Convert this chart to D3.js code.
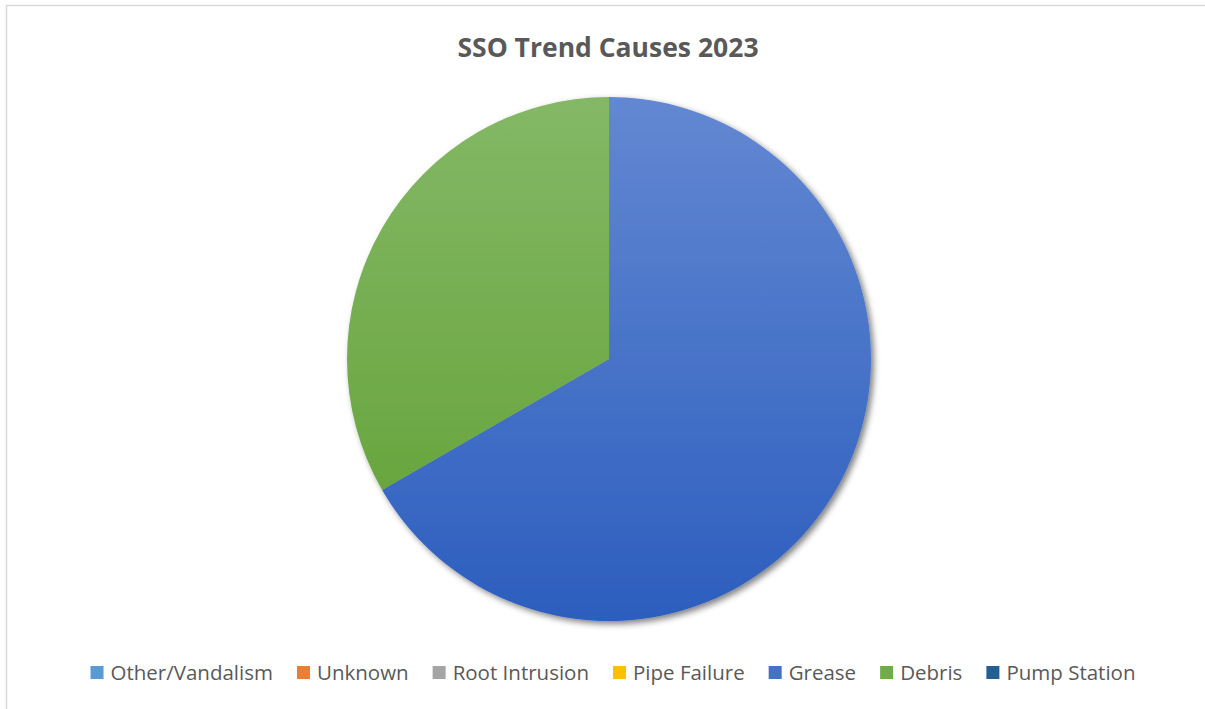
<!DOCTYPE html>
<html>
<head>
<meta charset="utf-8">
<script src="https://cdn.jsdelivr.net/npm/d3@7"></script>
<style>
  body { margin: 0; background: #fff; }
  svg { display: block; }
</style>
</head>
<body>
<svg></svg>
<script>
const width = 1205;
const height = 709;

// Data
const causes = ["Other/Vandalism", "Unknown", "Root Intrusion", "Pipe Failure", "Grease", "Debris", "Pump Station"];
const counts = [0, 0, 0, 0, 2, 1, 0];
const colors = ["#5B9BD5", "#ED7D31", "#A5A5A5", "#FFC000", "#4472C4", "#70AD47", "#255E91"];
const topColors = ["#6FA8DC", "#F28E4A", "#B5B5B5", "#FFCB33", "#6388D2", "#84B866", "#2F6CA3"];
const bottomColors = ["#4A8BC8", "#E06A1E", "#959595", "#EFB400", "#2C5EBE", "#60A032", "#1D5082"];

const svg = d3.select("svg")
  .attr("width", width)
  .attr("height", height);

const defs = svg.append("defs");

// chart border (only top/left visible in the crop)
svg.append("rect")
  .attr("x", 6.5).attr("y", 5.5)
  .attr("width", 1300).attr("height", 800)
  .attr("fill", "none")
  .attr("stroke", "#d9d9d9")
  .attr("stroke-width", 1.5);

// Title
svg.append("text")
  .attr("x", 608)
  .attr("y", 57)
  .attr("text-anchor", "middle")
  .style("font-family", "'Open Sans', sans-serif")
  .style("font-weight", "bold")
  .style("font-size", "26.5px")
  .style("fill", "#595959")
  .text("SSO Trend Causes 2023");

const cx = 609, cy = 359, r = 262;

// gradients per slice
causes.forEach((c, i) => {
  const g = defs.append("linearGradient")
    .attr("id", "grad" + i)
    .attr("gradientUnits", "userSpaceOnUse")
    .attr("x1", 0).attr("y1", -r)
    .attr("x2", 0).attr("y2", r);
  g.append("stop").attr("offset", "0%").attr("stop-color", topColors[i]);
  g.append("stop").attr("offset", "100%").attr("stop-color", bottomColors[i]);
});

// shadow
const filter = defs.append("filter")
  .attr("id", "shadow")
  .attr("x", "-20%").attr("y", "-20%")
  .attr("width", "140%").attr("height", "140%");
filter.append("feGaussianBlur").attr("in", "SourceAlpha").attr("stdDeviation", 3);
filter.append("feOffset").attr("dx", 3).attr("dy", 3).attr("result", "blur");
filter.append("feComponentTransfer").append("feFuncA").attr("type", "linear").attr("slope", 0.5);
const merge = filter.append("feMerge");
merge.append("feMergeNode");
merge.append("feMergeNode").attr("in", "SourceGraphic");

const pie = d3.pie().sort(null).value(d => d.value);
const arc = d3.arc().innerRadius(0).outerRadius(r);

const data = causes.map((c, i) => ({ name: c, value: counts[i], i: i }));

const chart = svg.append("g")
  .attr("transform", `translate(${cx},${cy})`);

chart.append("g")
  .attr("filter", "url(#shadow)")
  .selectAll("path")
  .data(pie(data).filter(d => d.data.value > 0))
  .enter()
  .append("path")
  .attr("d", arc)
  .attr("fill", d => `url(#grad${d.data.i})`);

// Legend
const legend = svg.append("g");
const items = legend.selectAll("g")
  .data(data)
  .enter()
  .append("g");

items.append("rect")
  .attr("width", 13).attr("height", 13)
  .attr("y", 666)
  .attr("fill", d => colors[d.i]);

items.append("text")
  .attr("x", 20)
  .attr("y", 680)
  .style("font-family", "'Open Sans', sans-serif")
  .style("font-size", "20.5px")
  .style("fill", "#595959")
  .text(d => d.name);

const gap = 24;
let widths = [];
items.each(function() {
  widths.push(20 + d3.select(this).select("text").node().getComputedTextLength());
});
const total = d3.sum(widths) + gap * (widths.length - 1);
let xPos = 613 - total / 2;
items.each(function(d, i) {
  d3.select(this).attr("transform", `translate(${xPos},0)`);
  xPos += widths[i] + gap;
});
</script>
</body>
</html>
